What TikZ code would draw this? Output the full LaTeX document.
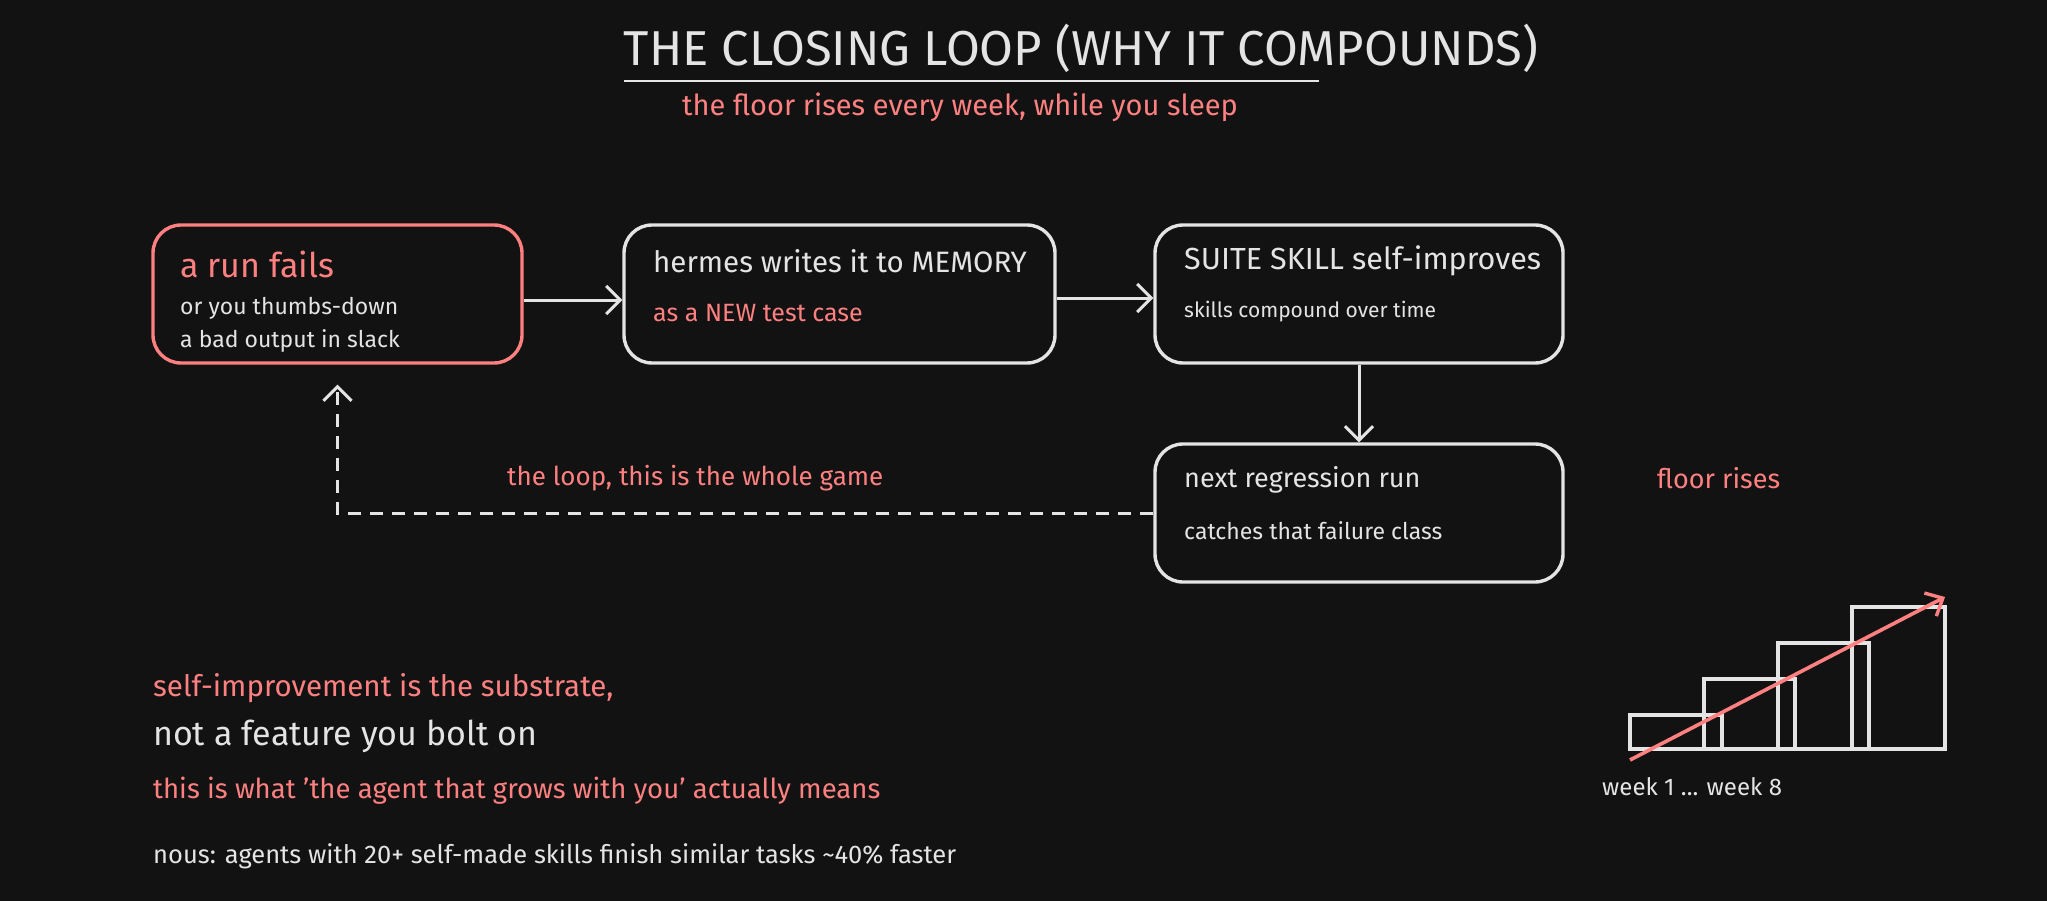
\documentclass[tikz,border=0pt]{standalone}
\usepackage{fontspec}
\setmainfont{Fira Sans}
\usetikzlibrary{arrows.meta}
\definecolor{bg}{HTML}{121212}
\definecolor{ink}{HTML}{E4E4E4}
\definecolor{accent}{HTML}{FF8080}
\newcommand{\fsz}[1]{\fontsize{#1}{#1}\selectfont}
\tikzset{
  box/.style={draw=ink, line width=3.4pt, rounded corners=28pt, fill=bg, inner sep=0pt},
  redbox/.style={box, draw=accent},
  lbl/.style={inner sep=0pt, anchor=west, text=ink},
  head/.style={lbl, font=\fsz{30}},
  sub/.style={lbl, font=\fsz{22}},
  conn/.style={draw=ink, line width=3pt, -{Straight Barb[length=14pt,width=28pt,line width=3pt]}},
  bar/.style={draw=ink, line width=3.2pt},
}
\begin{document}
\begin{tikzpicture}[x=1pt,y=-1pt]
\fill[bg] (0,0) rectangle (2047,901);
\useasboundingbox (0,0) rectangle (2047,901);

% title
\node[inner sep=0pt, text=ink, font=\fsz{49}] (title) at (1081,48) {THE CLOSING LOOP (WHY IT COMPOUNDS)};
\coordinate (ul1) at (624,81);
\coordinate (ul2) at (1319,81);
\draw[ink, line width=2.4pt] (ul1) -- (ul2);
\node[inner sep=0pt, text=accent, font=\fsz{29}] (subtitle) at (960,107) {the floor rises every week, while you sleep};

% boxes
\node[redbox, minimum width=369pt, minimum height=138pt] (b1) at (337.5,294) {};
\node[box, minimum width=431pt, minimum height=138pt] (b2) at (839.5,294) {};
\node[box, minimum width=408pt, minimum height=138pt] (b3) at (1359,294) {};
\node[box, minimum width=408pt, minimum height=138pt] (b4) at (1359,513) {};

\node[lbl, text=accent, font=\fsz{34}] (t1a) at (180,264) {a run fails};
\node[lbl, font=\fsz{23}] (t1b) at (180,308) {or you thumbs-down};
\node[lbl, font=\fsz{23}] (t1c) at (180,341) {a bad output in slack};

\node[lbl, font=\fsz{29.5}] (t2a) at (653,261) {hermes writes it to MEMORY};
\node[lbl, text=accent, font=\fsz{25}] (t2b) at (653,313) {as a NEW test case};

\node[lbl, font=\fsz{30.5}] (t3a) at (1184,261) {SUITE SKILL self-improves};
\node[lbl, font=\fsz{21}] (t3b) at (1184,312) {skills compound over time};

\node[lbl, font=\fsz{27}] (t4a) at (1184,480) {next regression run};
\node[lbl, font=\fsz{23}] (t4b) at (1184,531) {catches that failure class};

% connectors
\draw[conn] ([yshift=-6pt]b1.east) -- ([yshift=-6pt]b2.west);
\draw[conn] ([yshift=-4pt]b2.east) -- ([yshift=-4pt]b3.west);
\draw[conn] (b3.south) -- (b4.north);
\draw[conn, dash pattern=on 13pt off 9pt] (b4.west) -| ([yshift=-20pt]b1.south);

\node[lbl, text=accent, font=\fsz{26}] (loop) at (507,478) {the loop, this is the whole game};
\node[lbl, text=accent, font=\fsz{27}] (floor) at (1657,478) {floor rises};

% chart
\draw[bar] (1630,715) rectangle (1722,749);
\draw[bar] (1704,679) rectangle (1795,749);
\draw[bar] (1778,643) rectangle (1869,749);
\draw[bar] (1852,607) rectangle (1945,749);
\coordinate (ra) at (1630,760);
\coordinate (rb) at (1945,597);
\draw[accent, line width=3.6pt, -{Straight Barb[length=14pt,width=26pt,line width=3.4pt]}] (ra) -- (rb);
\node[lbl, font=\fsz{24}] (weeks) at (1602,787) {week 1 ... week 8};

% bottom text
\node[lbl, text=accent, font=\fsz{29.5}] (s1) at (153,688) {self-improvement is the substrate,};
\node[lbl, font=\fsz{34}] (s2) at (153,736) {not a feature you bolt on};
\node[lbl, text=accent, font=\fsz{27.5}] (s3) at (153,791) {this is what 'the agent that grows with you' actually means};
\node[lbl, font=\fsz{25.5}] (s4) at (153,856) {nous: agents with 20+ self-made skills finish similar tasks \textasciitilde40\% faster};
\end{tikzpicture}
\end{document}
